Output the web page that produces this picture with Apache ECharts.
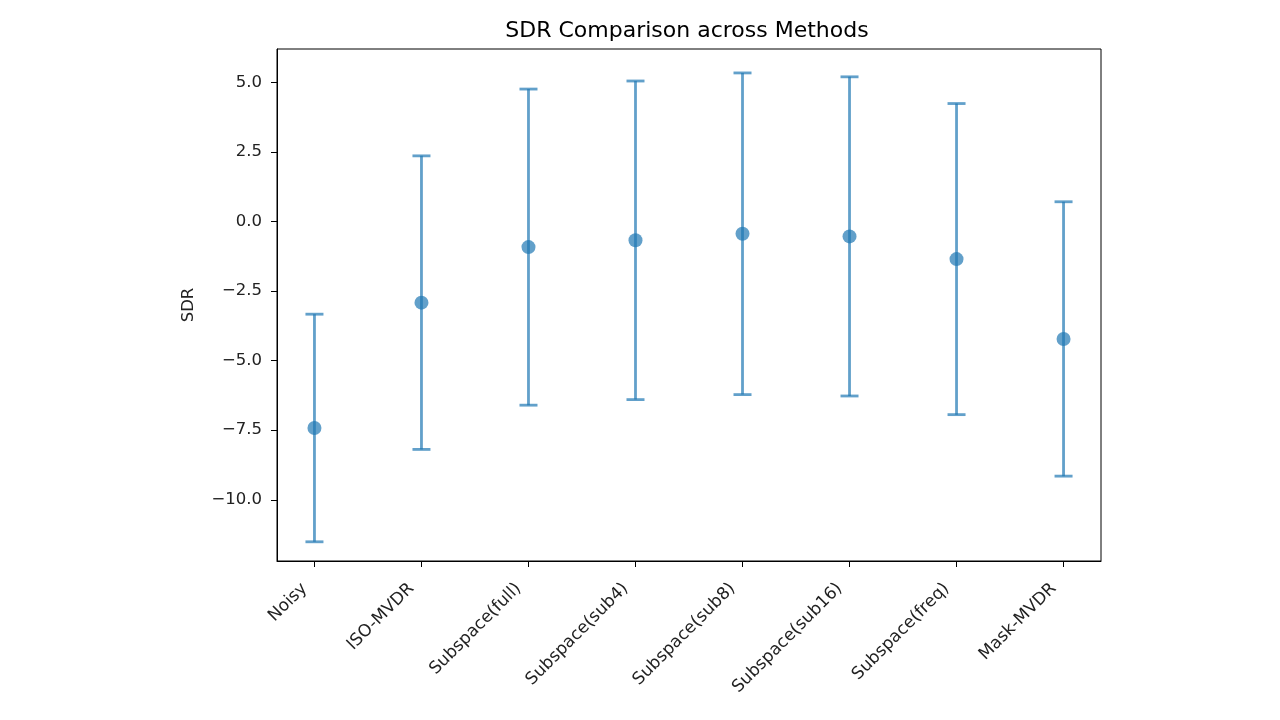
<!DOCTYPE html>
<html>
<head>
<meta charset="utf-8">
<script src="https://cdn.jsdelivr.net/npm/echarts@6/dist/echarts.min.js"></script>
<style>html,body{margin:0;padding:0;background:#fff;}#c{width:1280px;height:720px;}</style>
</head>
<body>
<div id="c"></div>
<script>
const categories = ['Noisy','ISO-MVDR','Subspace(full)','Subspace(sub4)','Subspace(sub8)','Subspace(sub16)','Subspace(freq)','Mask-MVDR'];
const means = [-7.42, -2.915, -0.92, -0.675, -0.44, -0.535, -1.35, -4.22];
const stds = [4.09, 5.275, 5.68, 5.725, 5.78, 5.735, 5.59, 4.93];
const yTicks = [-10, -7.5, -5, -2.5, 0, 2.5, 5];

const F = 'DejaVu Sans';
const errData = categories.map((c, i) => [i, means[i], means[i] - stds[i], means[i] + stds[i]]);
const ptData = categories.map((c, i) => [i, means[i]]);
const COLOR = '#1f77b4';

const chart = echarts.init(document.getElementById('c'));
chart.setOption({
  animation: false,
  title: {
    text: 'SDR Comparison across Methods',
    left: 682, top: 15, textAlign: 'center',
    textStyle: {fontFamily: F, fontSize: 22, fontWeight: 'normal', color: '#000'}
  },
  grid: {left: 277, right: 179, top: 49, bottom: 159, show: true, borderColor: '#000', borderWidth: 1, backgroundColor: 'transparent'},
  xAxis: {
    type: 'value', min: -0.35, max: 7.35,
    splitLine: {show: false},
    axisLine: {show: true, onZero: false, lineStyle: {color: '#000', width: 1}},
    axisTick: {show: true, customValues: categories.map((c, i) => i), length: 6, lineStyle: {color: '#000'}},
    axisLabel: {
      customValues: categories.map((c, i) => i),
      formatter: v => categories[Math.round(v)] || '',
      rotate: 45, margin: 15, padding: [0, 14, 0, 0],
      fontFamily: F, fontSize: 17, color: '#222'
    }
  },
  yAxis: {
    type: 'value', min: -12.2, max: 6.2,
    name: 'SDR', nameLocation: 'middle', nameGap: 80, nameRotate: 90,
    nameTextStyle: {fontFamily: F, fontSize: 16.5, color: '#222'},
    splitLine: {show: false},
    axisLine: {show: true, onZero: false, lineStyle: {color: '#000', width: 1}},
    axisTick: {show: true, customValues: yTicks, length: 6, lineStyle: {color: '#000'}},
    axisLabel: {
      customValues: yTicks,
      formatter: v => (v < 0 ? '\u2212' : '') + Math.abs(v).toFixed(1),
      margin: 15, fontFamily: F, fontSize: 16.5, color: '#222'
    }
  },
  series: [
    {
      type: 'custom',
      data: errData,
      renderItem: function (params, api) {
        const x = api.value(0);
        const lo = api.coord([x, api.value(2)]);
        const hi = api.coord([x, api.value(3)]);
        const cap = 9;
        const st = {stroke: COLOR, lineWidth: 2.8, opacity: 0.7};
        return {
          type: 'group',
          children: [
            {type: 'line', shape: {x1: lo[0], y1: lo[1], x2: hi[0], y2: hi[1]}, style: st},
            {type: 'line', shape: {x1: lo[0] - cap, y1: lo[1], x2: lo[0] + cap, y2: lo[1]}, style: st},
            {type: 'line', shape: {x1: hi[0] - cap, y1: hi[1], x2: hi[0] + cap, y2: hi[1]}, style: st}
          ]
        };
      },
      z: 2
    },
    {
      type: 'scatter',
      data: ptData,
      symbol: 'circle', symbolSize: 14,
      itemStyle: {color: COLOR, opacity: 0.7},
      z: 3
    }
  ]
});
</script>
</body>
</html>
